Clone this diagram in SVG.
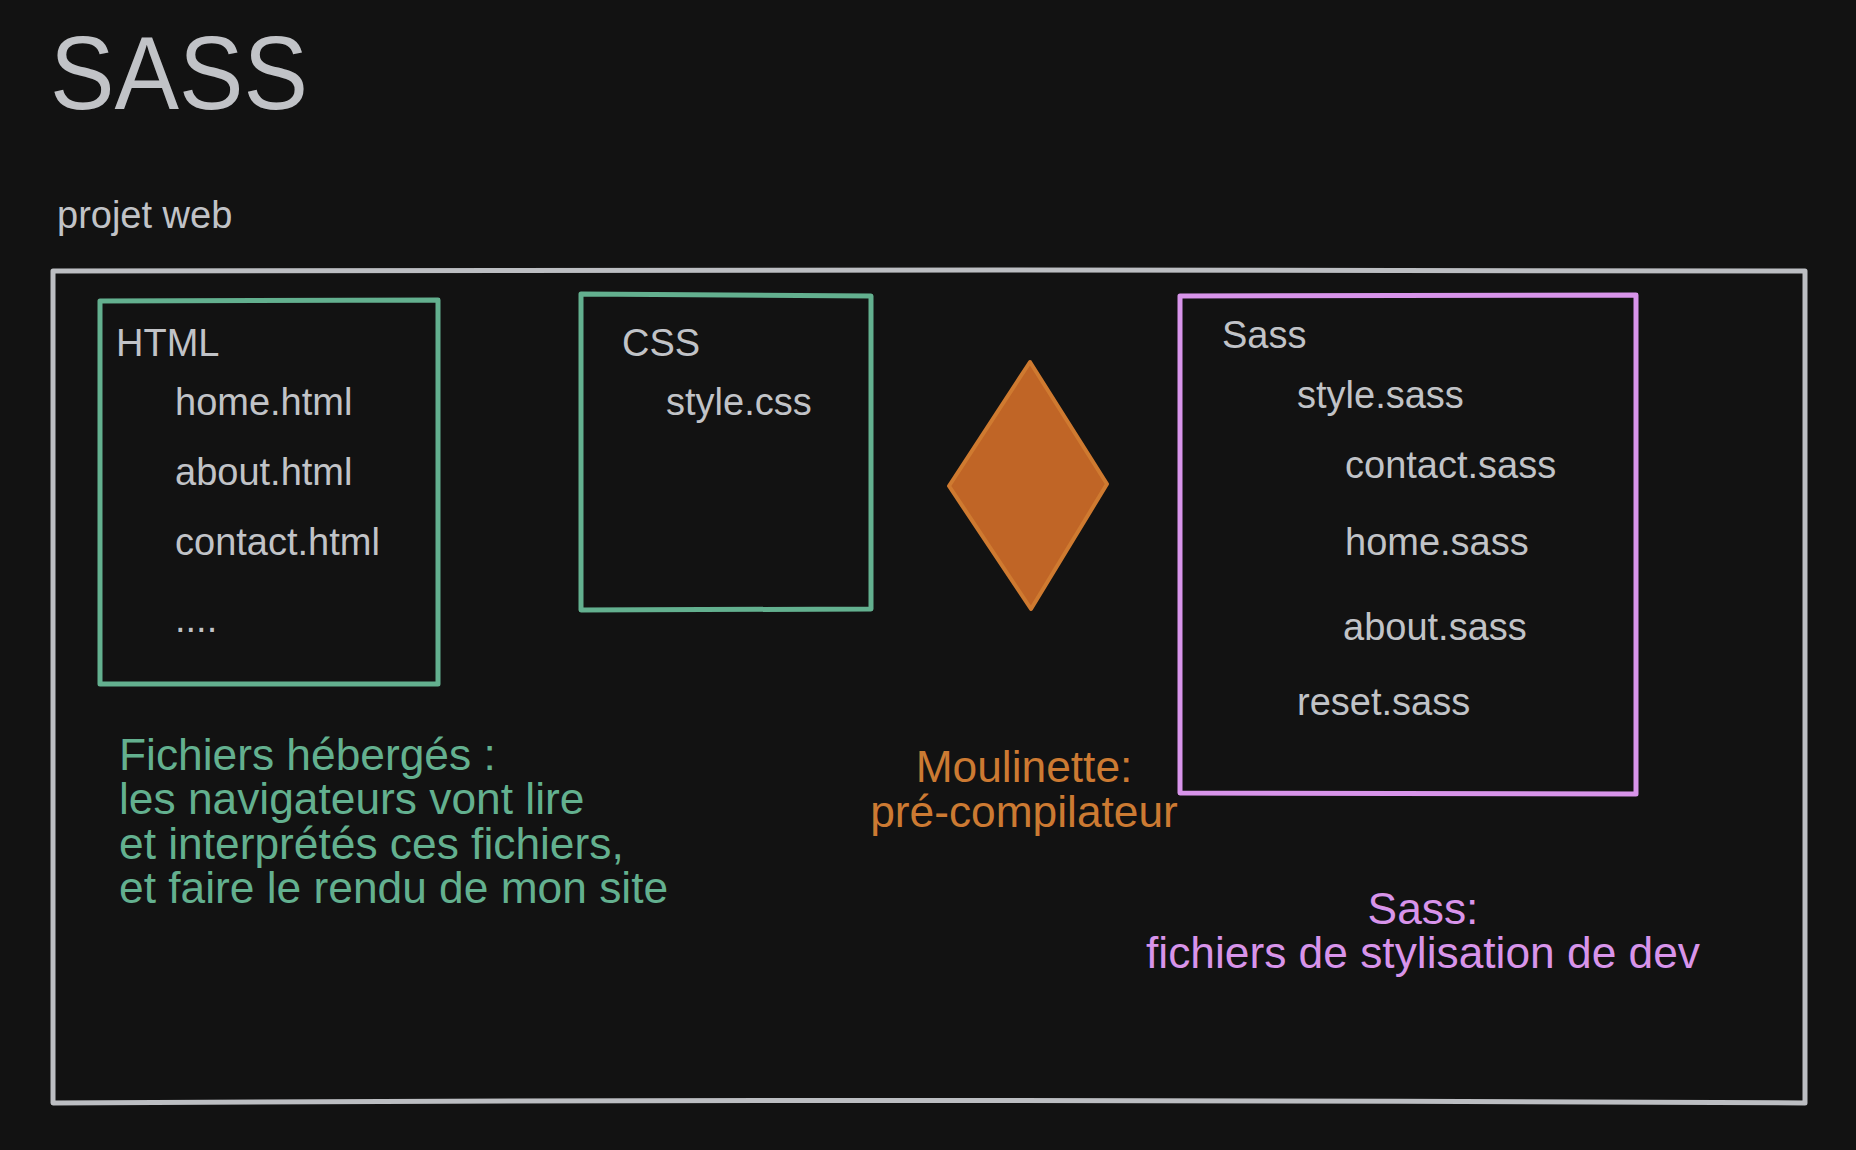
<svg xmlns="http://www.w3.org/2000/svg" width="1856" height="1150" viewBox="0 0 1856 1150">
  <style>
    .t { font-family: "Liberation Sans", Arial, Helvetica, sans-serif; fill: #c1c3c7; }
    .f { font-size: 38px; }
    .green { fill: #63b08f; }
    .orange { fill: #cc7a32; }
    .violet { fill: #d894ea; }
    .cap { font-family: "Liberation Sans", Arial, Helvetica, sans-serif; font-size: 44.3px; }
    .box { fill: none; stroke-width: 5; stroke-linejoin: round; stroke-linecap: round; }
  </style>
  <rect x="0" y="0" width="1856" height="1150" fill="#121212"/>

  <g id="title">
    <text class="t" x="50" y="109" font-size="104" textLength="258" lengthAdjust="spacingAndGlyphs">SASS</text>
  </g>

  <g id="projet-web">
    <text class="t f" x="57" y="228" font-size="37">projet web</text>
    <path class="box" d="M53 271 L1000 270 L1805 271 L1805 1103 Q930 1098 53 1103 Z" stroke="#bcbec2" stroke-width="4"/>
  </g>

  <g id="html">
    <path class="box" d="M100 301 L438 300 L438 684 L100 684 Z" stroke="#63b08f"/>
    <text class="t f" x="116" y="356">HTML</text>
    <text class="t f" x="175" y="415">home.html</text>
    <text class="t f" x="175" y="485">about.html</text>
    <text class="t f" x="175" y="555">contact.html</text>
    <text class="t f" x="175" y="632">....</text>
  </g>

  <g id="css">
    <path class="box" d="M581 294 L871 296 L871 609 L581 610 Z" stroke="#63b08f"/>
    <text class="t f" x="622" y="356">CSS</text>
    <text class="t f" x="666" y="415">style.css</text>
  </g>

  <g id="moulinette">
    <path d="M1030 362 L1107 484 L1031 609 L949 486 Z" fill="#c06526" stroke="#cf7a30" stroke-width="4" stroke-linejoin="round"/>
  </g>

  <g id="sass">
    <path class="box" d="M1180 296 L1636 295 L1636 794 L1180 793 Z" stroke="#d894ea"/>
    <text class="t f" x="1222" y="348">Sass</text>
    <text class="t f" x="1297" y="408">style.sass</text>
    <text class="t f" x="1345" y="478">contact.sass</text>
    <text class="t f" x="1345" y="555">home.sass</text>
    <text class="t f" x="1343" y="640">about.sass</text>
    <text class="t f" x="1297" y="715">reset.sass</text>
  </g>

  <g id="caption-hosted">
    <text class="cap green" x="119" y="770">Fichiers hébergés :</text>
    <text class="cap green" x="119" y="814">les navigateurs vont lire</text>
    <text class="cap green" x="119" y="859">et interprétés ces fichiers,</text>
    <text class="cap green" x="119" y="903">et faire le rendu de mon site</text>
  </g>

  <g id="caption-moulinette">
    <text class="cap orange" x="1024" y="782" text-anchor="middle">Moulinette:</text>
    <text class="cap orange" x="1024" y="827" text-anchor="middle">pré-compilateur</text>
  </g>

  <g id="caption-sass">
    <text class="cap violet" x="1423" y="924" text-anchor="middle">Sass:</text>
    <text class="cap violet" x="1423" y="968" text-anchor="middle">fichiers de stylisation de dev</text>
  </g>

  <g id="connectors"/>
</svg>
